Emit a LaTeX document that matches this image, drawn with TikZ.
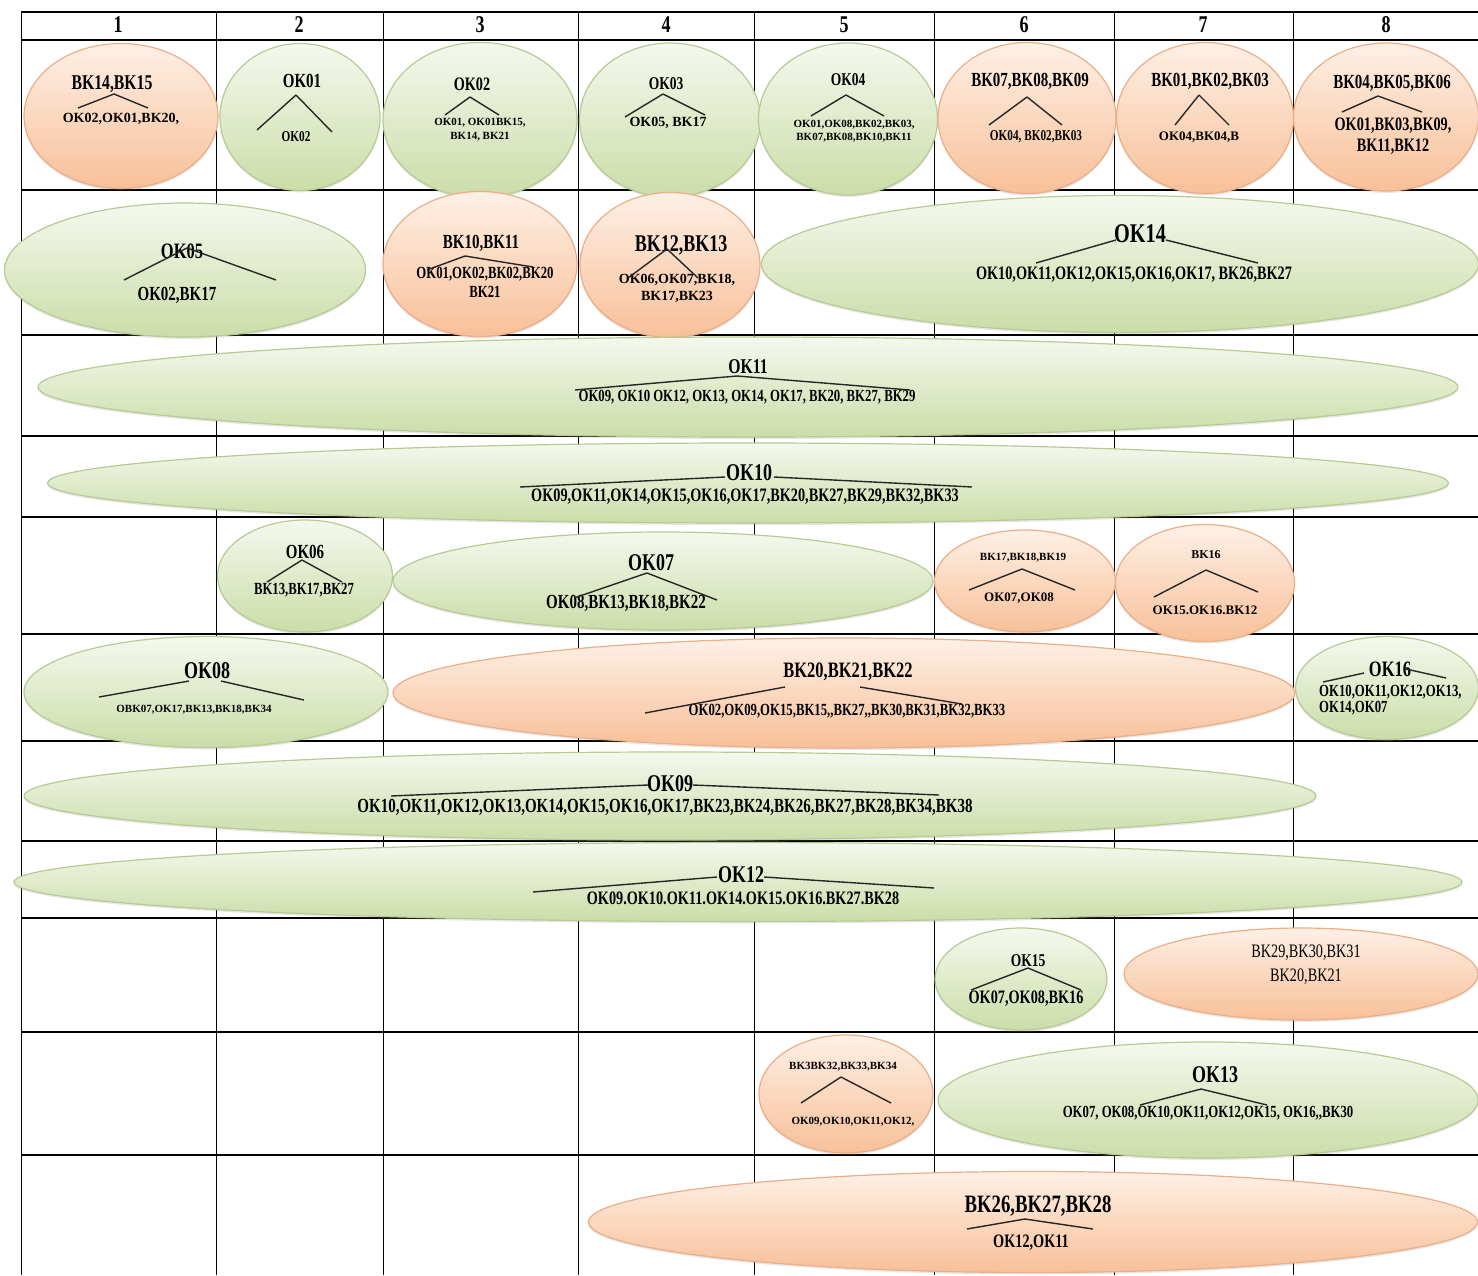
\documentclass[tikz,border=0pt]{standalone}
\usepackage{fontspec}
\newfontfamily\cellfont[FakeStretch=0.75]{Liberation Serif}
\newfontfamily\plainfont{Liberation Serif}
\usetikzlibrary{shapes.geometric,shadows}

\definecolor{okTop}{RGB}{245,248,238}
\definecolor{okBot}{RGB}{203,221,168}
\definecolor{okLine}{RGB}{184,202,148}
\definecolor{bkTop}{RGB}{254,240,230}
\definecolor{bkBot}{RGB}{248,192,152}
\definecolor{bkLine}{RGB}{236,174,134}

\tikzset{
    cell/.style = {ellipse, inner sep = 0pt, line width = 1.2pt,
        drop shadow = {shadow xshift = 0pt, shadow yshift = -2pt, opacity = 0.2}},
    okcell/.style = {cell, draw = okLine, top color = okTop, bottom color = okBot},
    bkcell/.style = {cell, draw = bkLine, top color = bkTop, bottom color = bkBot},
    lbl/.style = {inner sep = 0pt, align = center,
        font = \cellfont\bfseries\fontsize{#1pt}{#1pt}\selectfont},
    sml/.style = {inner sep = 0pt, align = center,
        font = \plainfont\bfseries\fontsize{#1pt}{#1pt}\selectfont},
    branch/.style = {line width = 1.4pt, black!85},
    rowline/.style = {line width = 1.8pt},
    colline/.style = {line width = 1pt}
}

\begin{document}
\begin{tikzpicture}[x = 1pt, y = -1pt]

    \useasboundingbox (0,0) rectangle (1478,1275);

    % table
    \foreach \y in {12,40,190,335,436,517,634,741,841,918,1032,1155}
        \draw[rowline] (21,\y) -- (1478,\y);
    \foreach \x in {21,216,383,578,754,934,1114,1293}
        \draw[colline] (\x,12) -- (\x,1275);
    \foreach \n/\x in {1/118,2/299,3/480,4/666,5/844,6/1024,7/1203,8/1386}
        \node[lbl = 24] (h\n) at (\x,25) {\n};

    % row 1
    \node[bkcell, minimum width = 194pt, minimum height = 145pt] (bk1415) at (121,116) {};
    \node[okcell, minimum width = 160pt, minimum height = 147pt] (ok01) at (300,117) {};
    \node[okcell, minimum width = 194pt, minimum height = 155pt] (ok02) at (480,120) {};
    \node[okcell, minimum width = 181pt, minimum height = 154pt] (ok03) at (670,120) {};
    \node[okcell, minimum width = 179pt, minimum height = 152pt] (ok04) at (848,119) {};
    \node[bkcell, minimum width = 178pt, minimum height = 151pt] (bk0709) at (1027,118) {};
    \node[bkcell, minimum width = 177pt, minimum height = 151pt] (bk0103) at (1205,118) {};
    \node[bkcell, minimum width = 185pt, minimum height = 148pt] (bk0406) at (1386,117) {};

    \node[lbl = 21] (bk1415t) at (112,84) {BK14,BK15};
    \node[sml = 14] (bk1415s) at (121,119) {OK02,OK01,BK20,};
    \node[lbl = 20] (ok01t) at (302,81) {OK01};
    \node[lbl = 15] (ok01s) at (296,137) {OK02};
    \node[lbl = 19] (ok02t) at (472,84) {OK02};
    \node[sml = 11] (ok02s) at (480,130) {OK01, OK01BK15,\\[3pt] BK14, BK21};
    \node[lbl = 18] (ok03t) at (666,84) {OK03};
    \node[sml = 14] (ok03s) at (668,123) {OK05, BK17};
    \node[lbl = 18] (ok04t) at (848,80) {OK04};
    \node[sml = 11] (ok04s) at (854,131) {OK01,OK08,BK02,BK03,\\[2pt] BK07,BK08,BK10,BK11};
    \node[lbl = 20] (bk0709t) at (1030,81) {BK07,BK08,BK09};
    \node[lbl = 15] (bk0709s) at (1036,137) {OK04, BK02,BK03};
    \node[lbl = 20] (bk0103t) at (1210,81) {BK01,BK02,BK03};
    \node[sml = 13] (bk0103s) at (1199,137) {OK04,BK04,B};
    \node[lbl = 20] (bk0406t) at (1392,83) {BK04,BK05,BK06};
    \node[lbl = 19] (bk0406s) at (1393,136) {OK01,BK03,BK09,\\[2pt] BK11,BK12};

    \coordinate (bk1415a) at (114,94);
    \coordinate (bk1415l) at (78,108);
    \coordinate (bk1415r) at (148,108);
    \coordinate (ok01a) at (296,95);
    \coordinate (ok01l) at (257,130);
    \coordinate (ok01r) at (332,132);
    \coordinate (ok02a) at (470,97);
    \coordinate (ok02l) at (445,115);
    \coordinate (ok02r) at (499,115);
    \coordinate (ok03a) at (663,94);
    \coordinate (ok03l) at (625,117);
    \coordinate (ok03r) at (705,115);
    \coordinate (ok04a) at (846,95);
    \coordinate (ok04l) at (811,116);
    \coordinate (ok04r) at (884,116);
    \coordinate (bk0709a) at (1027,97);
    \coordinate (bk0709l) at (989,125);
    \coordinate (bk0709r) at (1062,125);
    \coordinate (bk0103a) at (1199,95);
    \coordinate (bk0103l) at (1175,125);
    \coordinate (bk0103r) at (1229,125);
    \coordinate (bk0406a) at (1378,96);
    \coordinate (bk0406l) at (1342,112);
    \coordinate (bk0406r) at (1422,112);

    % row 2
    \node[okcell, minimum width = 361pt, minimum height = 134pt] (ok05) at (185,270) {};
    \node[bkcell, minimum width = 194pt, minimum height = 145pt] (bk1011) at (480,264) {};
    \node[bkcell, minimum width = 180pt, minimum height = 145pt] (bk1213) at (670,265) {};
    \node[okcell, minimum width = 717pt, minimum height = 137pt] (ok14) at (1120,264) {};

    \node[lbl = 22] (ok05t) at (182,251) {OK05};
    \node[lbl = 20] (ok05s) at (177,295) {OK02,BK17};
    \node[lbl = 20] (bk1011t) at (481,243) {BK10,BK11};
    \node[lbl = 17] (bk1011s) at (485,282) {OK01,OK02,BK02,BK20\\[2pt] BK21};
    \node[lbl = 24] (bk1213t) at (681,245) {BK12,BK13};
    \node[sml = 14] (bk1213s) at (677,288) {OK06,OK07,BK18,\\[3pt] BK17,BK23};
    \node[lbl = 27] (ok14t) at (1140,234) {OK14};
    \node[lbl = 19] (ok14s) at (1134,275) {OK10,OK11,OK12,OK15,OK16,OK17, BK26,BK27};

    \coordinate (ok05a) at (187,248);
    \coordinate (ok05l) at (124,280);
    \coordinate (ok05r) at (276,280);
    \coordinate (bk1011a) at (465,256);
    \coordinate (bk1011l) at (427,270);
    \coordinate (bk1011r) at (533,267);
    \coordinate (bk1213a) at (667,249);
    \coordinate (bk1213l) at (628,278);
    \coordinate (bk1213r) at (698,278);
    \coordinate (ok14a) at (1116,240);
    \coordinate (ok14b) at (1166,240);
    \coordinate (ok14l) at (1036,263);
    \coordinate (ok14r) at (1258,263);

    % rows 3 and 4
    \node[okcell, minimum width = 1420pt, minimum height = 100pt] (ok11) at (748,387) {};
    \node[okcell, minimum width = 1401pt, minimum height = 80pt] (ok10) at (748,483) {};

    \node[lbl = 21] (ok11t) at (748,367) {OK11};
    \node[lbl = 17] (ok11s) at (747,397) {OK09, OK10 OK12, OK13, OK14, OK17, BK20, BK27, BK29};
    \node[lbl = 24] (ok10t) at (749,473) {OK10};
    \node[lbl = 19] (ok10s) at (745,497) {OK09,OK11,OK14,OK15,OK16,OK17,BK20,BK27,BK29,BK32,BK33};

    \coordinate (ok11a) at (737,376);
    \coordinate (ok11l) at (575,390);
    \coordinate (ok11r) at (910,390);
    \coordinate (ok10a) at (725,477);
    \coordinate (ok10b) at (774,477);
    \coordinate (ok10l) at (520,487);
    \coordinate (ok10r) at (972,487);

    % row 5
    \node[okcell, minimum width = 175pt, minimum height = 112pt] (ok06) at (305,576) {};
    \node[okcell, minimum width = 540pt, minimum height = 98pt] (ok07) at (663,581) {};
    \node[bkcell, minimum width = 181pt, minimum height = 102pt] (bk1719) at (1025,581) {};
    \node[bkcell, minimum width = 179pt, minimum height = 117pt] (bk16) at (1205,583) {};

    \node[lbl = 20] (ok06t) at (305,552) {OK06};
    \node[lbl = 17] (ok06s) at (304,590) {BK13,BK17,BK27};
    \node[lbl = 24] (ok07t) at (651,563) {OK07};
    \node[lbl = 20] (ok07s) at (626,603) {OK08,BK13,BK18,BK22};
    \node[sml = 11] (bk1719t) at (1023,558) {BK17,BK18,BK19};
    \node[sml = 13] (bk1719s) at (1019,598) {OK07,OK08};
    \node[sml = 12] (bk16t) at (1206,555) {BK16};
    \node[sml = 13] (bk16s) at (1205,610) {OK15.OK16.BK12};

    \coordinate (ok06a) at (302,560);
    \coordinate (ok06l) at (267,582);
    \coordinate (ok06r) at (342,582);
    \coordinate (ok07a) at (647,573);
    \coordinate (ok07l) at (574,598);
    \coordinate (ok07r) at (717,600);
    \coordinate (bk1719a) at (1022,569);
    \coordinate (bk1719l) at (969,590);
    \coordinate (bk1719r) at (1075,590);
    \coordinate (bk16a) at (1206,570);
    \coordinate (bk16l) at (1154,597);
    \coordinate (bk16r) at (1258,592);

    % row 6
    \node[okcell, minimum width = 364pt, minimum height = 111pt] (ok08) at (206,692) {};
    \node[bkcell, minimum width = 902pt, minimum height = 110pt] (bk2022) at (844,693) {};
    \node[okcell, minimum width = 183pt, minimum height = 103pt] (ok16) at (1387,688) {};

    \node[lbl = 24] (ok08t) at (207,671) {OK08};
    \node[sml = 11] (ok08s) at (194,710) {OBK07,OK17,BK13,BK18,BK34};
    \node[lbl = 22] (bk2022t) at (848,672) {BK20,BK21,BK22};
    \node[lbl = 17] (bk2022s) at (847,711) {OK02,OK09,OK15,BK15,,BK27,,BK30,BK31,BK32,BK33};
    \node[lbl = 22] (ok16t) at (1390,669) {OK16};
    \node[lbl = 17, align = left, anchor = west] (ok16s) at (1319,700) {OK10,OK11,OK12,OK13,\\[-1pt] OK14,OK07};

    \coordinate (ok08a) at (189,681);
    \coordinate (ok08b) at (221,681);
    \coordinate (ok08l) at (99,697);
    \coordinate (ok08r) at (304,700);
    \coordinate (bk2022a) at (785,687);
    \coordinate (bk2022b) at (860,687);
    \coordinate (bk2022l) at (645,713);
    \coordinate (bk2022r) at (962,704);
    \coordinate (ok16a) at (1364,673);
    \coordinate (ok16b) at (1406,669);
    \coordinate (ok16l) at (1323,682);
    \coordinate (ok16r) at (1446,678);

    % rows 7 and 8
    \node[okcell, minimum width = 1292pt, minimum height = 88pt] (ok09) at (670,796) {};
    \node[okcell, minimum width = 1448pt, minimum height = 79pt] (ok12) at (738,882) {};

    \node[lbl = 24] (ok09t) at (670,784) {OK09};
    \node[lbl = 20] (ok09s) at (665,807) {OK10,OK11,OK12,OK13,OK14,OK15,OK16,OK17,BK23,BK24,BK26,BK27,BK28,BK34,BK38};
    \node[lbl = 24] (ok12t) at (741,875) {OK12};
    \node[lbl = 19] (ok12s) at (743,898) {OK09.OK10.OK11.OK14.OK15.OK16.BK27.BK28};

    \coordinate (ok09a) at (648,785);
    \coordinate (ok09b) at (693,785);
    \coordinate (ok09l) at (391,796);
    \coordinate (ok09r) at (939,795);
    \coordinate (ok12a) at (717,877);
    \coordinate (ok12b) at (764,877);
    \coordinate (ok12l) at (533,892);
    \coordinate (ok12r) at (934,888);

    % row 9
    \node[okcell, minimum width = 172pt, minimum height = 102pt] (ok15) at (1021,979) {};
    \node[bkcell, minimum width = 354pt, minimum height = 92pt] (bk2931) at (1301,974) {};

    \node[lbl = 18] (ok15t) at (1028,961) {OK15};
    \node[lbl = 19] (ok15s) at (1026,999) {OK07,OK08,BK16};
    \node[inner sep = 0pt, align = center,
    font = \cellfont\fontsize{19pt}{19pt}\selectfont] (bk2931t) at (1306,965) {BK29,BK30,BK31\\[5pt] BK20,BK21};

    \coordinate (ok15a) at (1028,968);
    \coordinate (ok15l) at (971,990);
    \coordinate (ok15r) at (1081,990);

    % row 10
    \node[bkcell, minimum width = 174pt, minimum height = 118pt] (bk3234) at (846,1094) {};
    \node[okcell, minimum width = 540pt, minimum height = 116pt] (ok13) at (1208,1100) {};

    \node[sml = 11] (bk3234t) at (843,1067) {BK3BK32,BK33,BK34};
    \node[sml = 11] (bk3234s) at (853,1122) {OK09,OK10,OK11,OK12,};
    \node[lbl = 24] (ok13t) at (1215,1075) {OK13};
    \node[lbl = 17] (ok13s) at (1208,1113) {OK07, OK08,OK10,OK11,OK12,OK15, OK16,,BK30};

    \coordinate (bk3234a) at (841,1077);
    \coordinate (bk3234l) at (801,1103);
    \coordinate (bk3234r) at (891,1103);
    \coordinate (ok13a) at (1201,1089);
    \coordinate (ok13l) at (1140,1105);
    \coordinate (ok13r) at (1267,1105);

    % row 11
    \node[bkcell, minimum width = 889pt, minimum height = 101pt] (bk2628) at (1033,1222) {};

    \node[lbl = 25] (bk2628t) at (1038,1206) {BK26,BK27,BK28};
    \node[lbl = 19] (bk2628s) at (1031,1243) {OK12,OK11};

    \coordinate (bk2628a) at (1025,1219);
    \coordinate (bk2628l) at (967,1229);
    \coordinate (bk2628r) at (1093,1229);

    % branches
    \foreach \c in {bk1415,ok01,ok02,ok03,ok04,bk0709,bk0103,bk0406,ok05,bk1011,bk1213,
        ok11,ok06,ok07,bk1719,bk16,ok15,bk3234,ok13,bk2628}
    {
        \draw[branch] (\c a) to (\c l);
        \draw[branch] (\c a) to (\c r);
    }
    \foreach \c in {ok14,ok10,ok08,bk2022,ok16,ok09,ok12}
    {
        \draw[branch] (\c a) to (\c l);
        \draw[branch] (\c b) to (\c r);
    }

\end{tikzpicture}
\end{document}
